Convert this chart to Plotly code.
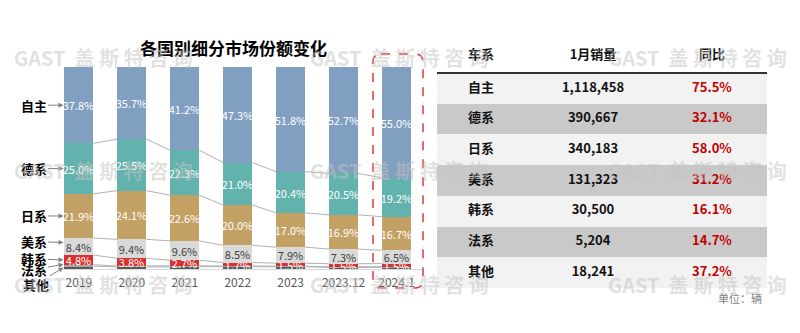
import plotly.graph_objects as go

categories = ["2019", "2020", "2021", "2022", "2023", "2023.12", "2024.1"]
series_names = ["其他", "法系", "韩系", "美系", "日系", "德系", "自主"]
s_other = [1.4, 1.0, 1.1, 1.1, 1.1, 0.8, 0.9]
s_fr = [0.7, 0.5, 0.5, 0.4, 0.3, 0.3, 0.3]
s_kr = [4.8, 3.8, 2.7, 1.7, 1.5, 1.5, 1.5]
s_us = [8.4, 9.4, 9.6, 8.5, 7.9, 7.3, 6.5]
s_jp = [21.9, 24.1, 22.6, 20.0, 17.0, 16.9, 16.7]
s_de = [25.0, 25.5, 22.3, 21.0, 20.4, 20.5, 19.2]
s_cn = [37.8, 35.7, 41.2, 47.3, 51.8, 52.7, 55.0]

table_groups = ["自主", "德系", "日系", "美系", "韩系", "法系", "其他"]
table_sales = ["1,118,458", "390,667", "340,183", "131,323", "30,500", "5,204", "18,241"]
table_yoy = ["75.5%", "32.1%", "58.0%", "31.2%", "16.1%", "14.7%", "37.2%"]
table_header = ["车系", "1月销量", "同比"]

series = [s_other, s_fr, s_kr, s_us, s_jp, s_de, s_cn]
colors = ["#595959", "#a6a6a6", "#d9302f", "#d9d9d9", "#c3a064", "#62b2ad", "#819fc0"]
text_colors = [None, None, "white", "#404040", "white", "white", "white"]

FONT = "Noto Sans CJK SC, Noto Sans, sans-serif"
W, H = 800, 333
BAR_W = 0.55
xs = list(range(len(categories)))

def px_x(p):
    return p / W

def px_y(p):
    return (H - p) / H

fig = go.Figure()

# connector lines between bars at each cumulative boundary
cum = [0.0] * len(categories)
boundaries = []
for s in series:
    cum = [c + v for c, v in zip(cum, s)]
    boundaries.append(list(cum))
for b in boundaries[:-1]:
    lx, ly = [], []
    for i in range(len(categories) - 1):
        lx += [xs[i] + BAR_W / 2, xs[i + 1] - BAR_W / 2, None]
        ly += [b[i], b[i + 1], None]
    fig.add_trace(go.Scatter(x=lx, y=ly, mode="lines", line=dict(color="#b0b0b0", width=1),
                             hoverinfo="skip", showlegend=False))

for name, s, c, tc in zip(series_names, series, colors, text_colors):
    kw = {}
    if tc:
        kw = dict(text=[f"{v:.1f}%" for v in s], textposition="inside", insidetextanchor="middle",
                  constraintext="none", textangle=0,
                  textfont=dict(color=tc, size=11, family=FONT))
    fig.add_trace(go.Bar(x=xs, y=s, name=name, marker=dict(color=c, line=dict(width=0)),
                         width=BAR_W, showlegend=False, **kw))

# table drawn on its own axes: row backgrounds as full-width bars, text as scatter text
TABLE_W = 330
col_centers = [44, 156, 275]
n = len(table_groups)
rows = list(range(n))
fills = ["#f2f2f2" if i % 2 == 0 else "#c9c9c9" for i in rows]
fig.add_trace(go.Bar(x=[TABLE_W] * n, y=rows, base=0, orientation="h", width=1,
                     marker=dict(color=fills, line=dict(width=0)), xaxis="x2", yaxis="y2",
                     showlegend=False, hoverinfo="skip"))
cols = [[f"<b>{g}</b>" for g in table_groups],
        [f"<b>{v}</b>" for v in table_sales],
        [f"<b>{v}</b>" for v in table_yoy]]
col_colors = ["#111111", "#111111", "#c00000"]
for cx, vals, cc in zip(col_centers, cols, col_colors):
    fig.add_trace(go.Scatter(x=[cx] * n, y=rows, mode="text", text=vals, xaxis="x2", yaxis="y2",
                             textfont=dict(family=FONT, size=13, color=cc), showlegend=False,
                             hoverinfo="skip"))
HEADER_Y = -1.07
fig.add_trace(go.Scatter(x=col_centers, y=[HEADER_Y] * 3, mode="text",
                         text=[f"<b>{h}</b>" for h in table_header], xaxis="x2", yaxis="y2",
                         textfont=dict(family=FONT, size=13, color="#111111"), showlegend=False,
                         hoverinfo="skip"))

annotations = []
# left-side series labels with arrows (2019 bar)
first_mid = []
base = 0.0
for s in series:
    first_mid.append(base + s[0] / 2)
    base += s[0]
label_spec = {
    "自主": (first_mid[6], -30, 0),
    "德系": (first_mid[5], -30, 0),
    "日系": (first_mid[4], -30, 0),
    "美系": (first_mid[3] + 2.0, -30, -1),
    "韩系": (first_mid[2], -30, -1),
    "法系": (first_mid[1] + 0.5, -30, 5),
    "其他": (first_mid[0], -28, 17),
}
for name, (yv, ax, ay) in label_spec.items():
    annotations.append(dict(x=-0.29, y=yv, xref="x", yref="y", text=f"<b>{name}</b>",
                            showarrow=True, ax=ax, ay=ay, arrowhead=2, arrowsize=1, arrowwidth=1,
                            arrowcolor="#808080", standoff=0, xanchor="center", yanchor="middle",
                            font=dict(family=FONT, size=13, color="#000000")))

annotations.append(dict(x=px_x(233), y=px_y(47), xref="paper", yref="paper", showarrow=False,
                        xanchor="center", yanchor="middle",
                        text="<b>各国别细分市场份额变化</b>",
                        font=dict(family=FONT, size=17, color="#000000")))
annotations.append(dict(x=px_x(764), y=px_y(298), xref="paper", yref="paper", showarrow=False,
                        xanchor="right", yanchor="middle", text="单位：辆",
                        font=dict(family=FONT, size=11, color="#7f7f7f")))

# watermarks
for wy in [57, 170, 284]:
    for wx in [12, 308, 606]:
        annotations.append(dict(x=px_x(wx), y=px_y(wy), xref="paper", yref="paper", showarrow=False,
                                xanchor="left", yanchor="middle", text="<b>GAST  盖 斯 特 咨 询</b>",
                                font=dict(family=FONT, size=20, color="rgba(195,195,195,0.5)")))

shapes = [
    dict(type="line", xref="x2", yref="y2", x0=0, x1=TABLE_W, y0=-0.5, y1=-0.5,
         line=dict(color="#303030", width=2)),
]
# dashed rounded highlight around last bar
x0, x1 = px_x(373), px_x(423)
y0, y1 = px_y(288), px_y(54)
rx, ry = 8 / W, 8 / H
path = (f"M {x0+rx},{y1} L {x1-rx},{y1} Q {x1},{y1} {x1},{y1-ry} L {x1},{y0+ry} "
        f"Q {x1},{y0} {x1-rx},{y0} L {x0+rx},{y0} Q {x0},{y0} {x0},{y0+ry} "
        f"L {x0},{y1-ry} Q {x0},{y1} {x0+rx},{y1} Z")
shapes.append(dict(type="path", xref="paper", yref="paper", path=path,
                   line=dict(color="#e03a3a", width=1.5, dash="dash")))

row_h = (288 - 73) / n
hdr_units = (73 - 38) / row_h
fig.update_layout(
    width=W, height=H, margin=dict(l=0, r=0, t=0, b=0),
    paper_bgcolor="white", plot_bgcolor="white",
    barmode="stack", bargap=0,
    xaxis=dict(domain=[px_x(63), px_x(423)], range=[-0.3, 6.5], tickvals=xs, ticktext=categories,
               showgrid=False, zeroline=False, showline=True, linecolor="#d9d9d9", linewidth=1,
               ticks="", ticklabelstandoff=3,
               tickfont=dict(family=FONT, size=12, color="#595959"), fixedrange=True),
    yaxis=dict(domain=[px_y(269), px_y(67)], range=[0, 100], visible=False, fixedrange=True),
    xaxis2=dict(domain=[px_x(437), px_x(767)], range=[0, TABLE_W], visible=False, fixedrange=True,
                anchor="y2"),
    yaxis2=dict(domain=[px_y(288), px_y(38)], range=[n - 0.5, -0.5 - hdr_units], visible=False,
                fixedrange=True, anchor="x2"),
    annotations=annotations, shapes=shapes,
    font=dict(family=FONT),
)

fig.write_html("out.html")
